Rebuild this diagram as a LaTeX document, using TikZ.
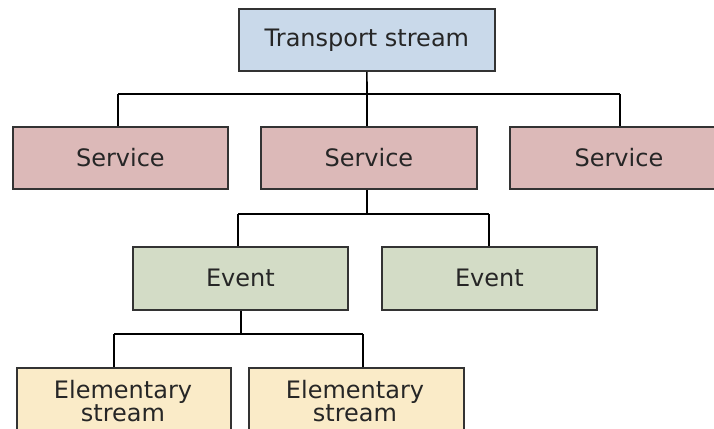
\documentclass[tikz,border=0pt]{standalone}
\usepackage{fontspec}
\setmainfont{DejaVu Sans}
\begin{document}
\begin{tikzpicture}[x=1pt,y=-1pt,
  lbl/.style={font=\fontsize{24}{23}\selectfont,text=black!85},
  box/.style={lbl,draw=black!80,line width=1.8pt,inner sep=0pt,anchor=north west},
  tsbox/.style={box,fill=tsblue},
  svbox/.style={box,fill=svpink},
  evbox/.style={box,fill=evgreen},
  esbox/.style={box,fill=esyellow},
  link/.style={draw=black,line width=1.6pt}]
\definecolor{tsblue}{HTML}{C9D9EA}
\definecolor{svpink}{HTML}{DCB9B8}
\definecolor{evgreen}{HTML}{D3DCC6}
\definecolor{esyellow}{HTML}{FAEBC8}
\useasboundingbox (0,0) rectangle (714,428);
\clip (0,0) rectangle (714,428);
\fill[white] (0,0) rectangle (714,428);

% bus lines and stems
\coordinate (busA) at (367,94);
\coordinate (busAl) at (118,94);
\coordinate (busAr) at (620,94);
\coordinate (busB) at (367,214);
\coordinate (busBl) at (238,214);
\coordinate (busBr) at (489,214);
\coordinate (busC) at (241,334);
\coordinate (busCl) at (114,334);
\coordinate (busCr) at (363,334);

% boxes
\node[tsbox,minimum width=256pt,minimum height=62pt] (ts) at (238,8) {Transport stream};
\node[svbox,minimum width=215pt,minimum height=62pt] (s1) at (12,126) {Service};
\node[svbox,minimum width=216pt,minimum height=62pt] (s2) at (260,126) {Service};
\node[svbox,minimum width=218pt,minimum height=62pt] (s3) at (509,126) {Service};
\node[evbox,minimum width=215pt,minimum height=63pt] (e1) at (132,246) {Event};
\node[evbox,minimum width=215pt,minimum height=63pt] (e2) at (381,246) {Event};
\node[esbox,minimum width=214pt,minimum height=80pt] (x1) at (16,367) {};
\node[esbox,minimum width=215pt,minimum height=80pt] (x2) at (248,367) {};
\node[lbl,align=center] (x1t) at (123,401) {Elementary\\stream};
\node[lbl,align=center] (x2t) at (355,401) {Elementary\\stream};

% connectors
\draw[link] (ts.south) -- (busA);
\draw[link] (busAl) -- (busAr);
\draw[link] (busAl) -- (busAl |- s1.north);
\draw[link] (busA) -- (busA |- s2.north);
\draw[link] (busAr) -- (busAr |- s3.north);

\draw[link] (busA |- s2.south) -- (busB);
\draw[link] (busBl) -- (busBr);
\draw[link] (busBl) -- (busBl |- e1.north);
\draw[link] (busBr) -- (busBr |- e2.north);

\draw[link] (busC |- e1.south) -- (busC);
\draw[link] (busCl) -- (busCr);
\draw[link] (busCl) -- (busCl |- x1.north);
\draw[link] (busCr) -- (busCr |- x2.north);
\end{tikzpicture}
\end{document}
